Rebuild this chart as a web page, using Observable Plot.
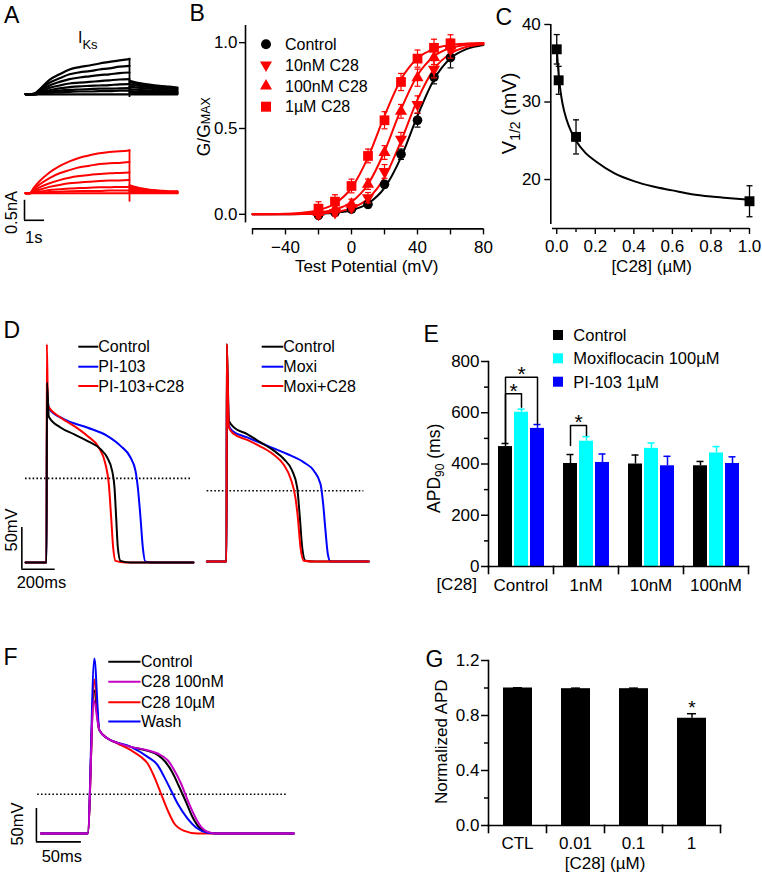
<!DOCTYPE html>
<html><head><meta charset="utf-8">
<script src="https://cdn.jsdelivr.net/npm/d3@7"></script>
<script src="https://cdn.jsdelivr.net/npm/@observablehq/plot@0.6"></script>
<style>
html,body{margin:0;padding:0;background:#fff;}
#fig{position:relative;width:762px;height:876px;overflow:hidden;background:#fff;}
</style></head>
<body><div id="fig"></div>
<script>
// ================= DATA =================
// --- A: IKs current traces (nA) vs time (s) ---
const aPreTime = [-0.2];
const aStepTime = [0, 0.25, 0.5, 1, 1.5, 2, 2.5, 3, 3.5, 4, 4.5, 5];
const aTailTime = [5, 5.5, 6, 6.5, 7, 7.4];
const aControlStep = [
  [0, .02, .12, .36, .50, .62, .68, .72, .77, .81, .85, .88],
  [0, .01, .10, .29, .40, .50, .55, .58, .62, .65, .69, .71],
  [0, .01, .08, .22, .31, .38, .42, .45, .48, .50, .53, .545],
  [0, .01, .05, .16, .22, .27, .29, .31, .33, .35, .37, .38],
  [0, 0, .04, .10, .15, .18, .20, .21, .22, .23, .25, .255],
  [0, 0, .02, .06, .09, .11, .12, .13, .14, .14, .15, .155],
  [0, 0, .01, .04, .05, .06, .07, .07, .08, .08, .09, .09],
  [0, 0, 0, 0, 0, 0, 0, 0, 0, 0, 0, 0]
];
const aControlTail = [
  [.34, .28, .24, .21, .19, .17],
  [.30, .25, .21, .19, .17, .15],
  [.25, .21, .18, .16, .14, .12],
  [.19, .16, .14, .12, .10, .09],
  [.13, .11, .09, .08, .07, .06],
  [.08, .07, .06, .05, .04, .04],
  [.04, .03, .03, .02, .02, .02],
  [0, 0, 0, 0, 0, 0]
];
const aC28Step = [
  [0, .16, .30, .52, .68, .80, .89, .95, 1.00, 1.03, 1.05, 1.07],
  [0, .12, .22, .38, .50, .58, .65, .69, .73, .75, .76, .78],
  [0, .08, .15, .25, .33, .39, .43, .46, .48, .50, .51, .52],
  [0, .05, .09, .16, .21, .25, .27, .29, .31, .32, .32, .33],
  [0, .02, .04, .08, .10, .12, .13, .14, .15, .15, .16, .16],
  [0, .01, .02, .03, .04, .05, .06, .06, .06, .07, .07, .07],
  [0, 0, 0, 0, 0, 0, 0, 0, 0, 0, 0, 0]
];
const aC28Tail = [
  [.20, .13, .09, .07, .05, .05],
  [.16, .11, .08, .06, .04, .04],
  [.12, .08, .06, .04, .03, .03],
  [.08, .06, .04, .03, .02, .02],
  [.05, .04, .03, .02, .01, .01],
  [.03, .02, .01, .01, .01, .01],
  [0, 0, 0, 0, 0, 0]
];
const aControlTransient = [-0.08, 0.90];
const aC28Transient = [-0.22, 1.09];
const aScaleBar = [{t: -0.25, i: -0.675, dt: 1, di: 0.5}];

// --- B: G/Gmax vs test potential ---
const bVoltage = [-20, -10, 0, 10, 20, 30, 40, 50, 60];
const bControl = [-0.006, 0.01, 0.03, 0.058, 0.175, 0.35, 0.548, 0.80, 0.913];
const bControlErr = [0.01, 0.01, 0.01, 0.02, 0.02, 0.03, 0.04, 0.04, 0.06];
const b10nM = [0.0, 0.01, 0.04, 0.097, 0.25, 0.437, 0.64, 0.845, 0.96];
const b10nMErr = [0.02, 0.02, 0.02, 0.03, 0.04, 0.04, 0.05, 0.05, 0.05];
const b100nM = [0.01, 0.03, 0.058, 0.175, 0.36, 0.60, 0.796, 0.913, 0.98];
const b100nMErr = [0.03, 0.03, 0.03, 0.03, 0.04, 0.04, 0.05, 0.04, 0.04];
const b1uM = [0.033, 0.074, 0.165, 0.34, 0.548, 0.771, 0.907, 0.97, 0.996];
const b1uMErr = [0.04, 0.04, 0.04, 0.04, 0.05, 0.05, 0.05, 0.05, 0.05];
const bFitVoltage = [-60, -50, -40, -30, -20, -10, 0, 10, 20, 30, 40, 50, 60, 70, 80];
const bFitControl = [0.0001, 0.0002, 0.0005, 0.0012, 0.0033, 0.009, 0.024, 0.063, 0.154, 0.332, 0.574, 0.786, 0.909, 0.964, 0.987];
const bFit10nM = [0.0001, 0.0002, 0.0007, 0.0018, 0.005, 0.013, 0.036, 0.091, 0.214, 0.426, 0.668, 0.846, 0.937, 0.976, 0.991];
const bFit100nM = [0.0002, 0.0005, 0.0014, 0.0039, 0.010, 0.028, 0.072, 0.175, 0.366, 0.611, 0.810, 0.921, 0.969, 0.988, 0.996];
const bFit1uM = [0.0005, 0.0012, 0.0033, 0.009, 0.024, 0.063, 0.154, 0.332, 0.574, 0.786, 0.909, 0.964, 0.987, 0.995, 0.998];
const bLegend = ["Control", "10nM C28", "100nM C28", "1\u00b5M C28"];
const bXTicks = [-60, -40, -20, 0, 20, 40, 60, 80];
const bYTicks = [0, 0.5, 1.0];

// --- C: V1/2 vs [C28] ---
const cConc = [0, 0.01, 0.1, 1.0];
const cV12 = [36.8, 32.8, 25.5, 17.2];
const cV12Err = [1.9, 1.8, 2.2, 2.0];
const cFitConc = [0, 0.01, 0.02, 0.03, 0.05, 0.075, 0.1, 0.15, 0.2, 0.3, 0.4, 0.5, 0.6, 0.7, 0.8, 0.9, 1.0];
const cFitV12 = [37.0, 33.5, 31.3, 29.8, 27.8, 26.2, 25.0, 23.4, 22.4, 20.8, 19.8, 19.1, 18.6, 18.1, 17.8, 17.6, 17.4];
const cXTicks = [0, 0.2, 0.4, 0.6, 0.8, 1.0];
const cXMinor = [0.1, 0.3, 0.5, 0.7, 0.9];
const cYTicks = [20, 30, 40];

// --- D: action potentials (ms, mV above rest) ---
const dTimeControlL = [-126, 0, 3, 14, 84, 164, 244, 324, 364, 394, 408, 418, 428, 444, 504, 882];
const dVmControlL = [0, 0, 216, 175, 162, 154, 146, 136, 126, 110, 90, 54, 18, 2, 0, 0];
const dTimePI103 = [-126, 0, 3, 14, 104, 244, 364, 444, 504, 534, 548, 564, 578, 594, 654, 882];
const dVmPI103 = [0, 0, 200, 185, 172, 162, 152, 140, 126, 110, 90, 54, 18, 1, 0, 0];
const dTimePI103C28 = [-126, 0, 2, 9, 84, 164, 244, 314, 354, 374, 388, 400, 414, 474, 882];
const dVmPI103C28 = [0, 0, 262, 188, 174, 164, 152, 138, 118, 94, 54, 18, 2, 0, 0];
const dTimeControlR = [-118, 0, 2, 14, 44, 124, 204, 284, 344, 394, 424, 440, 454, 474, 534, 854];
const dVmControlR = [0, 0, 261, 169, 161, 153, 143, 133, 123, 109, 89, 53, 17, 1, 0, 0];
const dTimeMoxi = [-118, 0, 2, 14, 34, 124, 244, 364, 464, 524, 564, 580, 594, 608, 624, 854];
const dVmMoxi = [0, 0, 240, 163, 157, 149, 139, 129, 119, 109, 93, 69, 37, 9, 0, 0];
const dTimeMoxiC28 = [-118, 0, 2, 14, 44, 124, 204, 284, 344, 384, 414, 428, 444, 464, 524, 854];
const dVmMoxiC28 = [0, 0, 261, 161, 153, 146, 138, 128, 116, 100, 76, 53, 17, 1, 0, 0];
const dAPD90Left = [{t1: -126, t2: 864, v: 101}];
const dAPD90Right = [{t1: -116, t2: 824, v: 85}];
const dScaleBar = [{t: -148, v: -8, dt: 200, dv: 50}];
const dLegendLeft = ["Control", "PI-103", "PI-103+C28"];
const dLegendRight = ["Control", "Moxi", "Moxi+C28"];

// --- E: APD90 bars ---
const eGroups = ["Control", "1nM", "10nM", "100nM"];
const eSeriesNames = ["Control", "Moxiflocacin 100\u00b5M", "PI-103 1\u00b5M"];
const eControl = [468, 402, 400, 393];
const eControlErr = [12, 35, 35, 17];
const eMoxi = [602, 489, 461, 443];
const eMoxiErr = [12, 18, 21, 25];
const ePI103 = [539, 406, 393, 402];
const ePI103Err = [15, 33, 37, 26];
const eYTicks = [0, 200, 400, 600, 800];
const eYMinor = [100, 300, 500, 700];
const eBrackets = [
  {id: 1, group: "Control", from: 0, to: 2, left: 482, top: 739, right: 556},
  {id: 2, group: "Control", from: 0, to: 1, left: 482, top: 674, right: 621},
  {id: 3, group: "1nM", from: 0, to: 1, left: 472, top: 550, right: 511}
];

// --- F: AP traces (ms, mV above rest) ---
const fTimeControl = [-52, 0, 7, 12.9, 22.2, 33.3, 48, 66.6, 77.7, 86, 94, 101, 109, 116, 124, 132, 144, 229];
const fVmControl = [0, 0, 215, 155, 142.5, 136, 130, 124, 118, 108, 92, 72, 48, 26, 9, 2, 0, 0];
const fTime100nM = [-52, 0, 6.7, 12.9, 22.2, 33.3, 48, 66.6, 77.7, 88.8, 96.2, 103.7, 111, 118.4, 126, 133.4, 144.5, 229];
const fVm100nM = [0, 0, 200, 155, 142.5, 136, 130, 125, 120, 110, 95, 75, 50, 27.5, 10, 2.5, 0, 0];
const fTime10uM = [-52, 0, 7.4, 12.9, 22.2, 33.3, 48, 59, 66.6, 74, 81.4, 88.8, 96.2, 107.3, 122, 229];
const fVm10uM = [0, 0, 231, 155, 142.5, 135, 125, 115, 105, 85, 60, 35, 15, 4, 0, 0];
const fTimeWash = [-52, 0, 7.4, 12.9, 22.2, 48, 66.6, 77.7, 85, 92.5, 99.9, 111, 122, 133, 144, 229];
const fVmWash = [0, 0, 262.5, 155, 142.5, 130, 115, 102.5, 85, 65, 45, 22.5, 7.5, 1, 0, 0];
const fAPD = [{t1: -55.6, t2: 222, v: 59}];
const fScaleBar = [{t: -57, v: -12.5, dt: 50, dv: 50}];
const fLegend = ["Control", "C28 100nM", "C28 10\u00b5M", "Wash"];

// --- G: normalized APD ---
const gCategories = ["CTL", "0.01", "0.1", "1"];
const gNormAPD = [1.0, 0.995, 0.995, 0.78];
const gNormAPDErr = [0.002, 0.004, 0.004, 0.033];
const gSignificant = [false, false, false, true];
const gYTicks = [0, 0.4, 0.8, 1.2];
const gYMinor = [0.2, 0.6, 1.0];

// ================= HELPERS =================
const FONT = "'Liberation Sans', Arial, Helvetica, sans-serif";
const fig = document.getElementById("fig");
const BLUE = "#0000ff", RED = "#ff0000", CYAN = "#00ffff", MAGENTA = "#c400c4";
function place(frame, pad, opts) {
  const [x0, y0, x1, y1] = frame;
  const [pt, pr, pb, pl] = pad;
  const svg = Plot.plot({
    width: x1 - x0 + pl + pr,
    height: y1 - y0 + pt + pb,
    marginTop: pt, marginRight: pr, marginBottom: pb, marginLeft: pl,
    style: {fontFamily: FONT, fontSize: "17px", background: "transparent", overflow: "visible", color: "#000"},
    ...opts
  });
  svg.style.position = "absolute";
  svg.style.left = (x0 - pl) + "px";
  svg.style.top = (y0 - pt) + "px";
  svg.style.maxWidth = "none";
  fig.appendChild(svg);
  return svg;
}
const capSymbol = {draw(ctx, size) { const w = Math.sqrt(size / Math.PI); ctx.moveTo(-w, 0); ctx.lineTo(w, 0); }};
const traceRows = (times, values, name) => times.map((t, i) => ({name, t, v: values[i]}));

// ================= A =================
function sweepRows(steps, tails) {
  const rows = [];
  steps.forEach((s, k) => {
    aPreTime.forEach(t => rows.push({seg: "s" + k, t, i: 0}));
    aStepTime.forEach((t, j) => rows.push({seg: "s" + k, t, i: s[j]}));
    aTailTime.forEach((t, j) => rows.push({seg: "t" + k, t, i: tails[k][j]}));
  });
  return rows;
}
place([25, 56.7, 177, 98.3], [3, 3, 3, 3], {
  x: {domain: [-0.2, 7.4], axis: null}, y: {domain: [-0.12, 0.92], axis: null},
  marks: [
    Plot.line(sweepRows(aControlStep, aControlTail), {x: "t", y: "i", z: "seg", curve: "monotone-x", stroke: "#000", strokeWidth: 2.2}),
    Plot.ruleX([aStepTime[aStepTime.length - 1]], {y1: aControlTransient[0], y2: aControlTransient[1], stroke: "#000", strokeWidth: 1.8})
  ]
});
place([23, 148.2, 177, 221], [3, 3, 3, 3], {
  x: {domain: [-0.3, 7.4], axis: null}, y: {domain: [-0.7, 1.12], axis: null},
  marks: [
    Plot.line(sweepRows(aC28Step, aC28Tail), {x: "t", y: "i", z: "seg", curve: "monotone-x", stroke: RED, strokeWidth: 2}),
    Plot.ruleX([aStepTime[aStepTime.length - 1]], {y1: aC28Transient[0], y2: aC28Transient[1], stroke: RED, strokeWidth: 1.8}),
    Plot.ruleX(aScaleBar, {x: "t", y1: "i", y2: d => d.i + d.di, stroke: "#000", strokeWidth: 1.6}),
    Plot.ruleY(aScaleBar, {y: "i", x1: "t", x2: d => d.t + d.dt, stroke: "#000", strokeWidth: 1.6})
  ]
});

// ================= B =================
{
  const series = [
    {name: bLegend[0], y: bControl, err: bControlErr, fit: bFitControl, color: "#000", symbol: "circle", r: 4.8, rotate: 0},
    {name: bLegend[1], y: b10nM, err: b10nMErr, fit: bFit10nM, color: RED, symbol: "triangle", r: 4.5, rotate: 180},
    {name: bLegend[2], y: b100nM, err: b100nMErr, fit: bFit100nM, color: RED, symbol: "triangle", r: 4.5, rotate: 0},
    {name: bLegend[3], y: b1uM, err: b1uMErr, fit: bFit1uM, color: RED, symbol: "square", r: 5.5, rotate: 0}
  ];
  const marks = [];
  series.forEach(s => {
    const fit = bFitVoltage.map((v, i) => ({v, g: s.fit[i]}));
    marks.push(Plot.line(fit, {x: "v", y: "g", curve: "monotone-x", stroke: s.color, strokeWidth: 2}));
  });
  series.forEach(s => {
    const p = bVoltage.map((v, i) => ({v, g: s.y[i], e: s.err[i]}));
    marks.push(Plot.ruleX(p, {x: "v", y1: d => d.g - d.e, y2: d => d.g + d.e, stroke: s.color, strokeWidth: 1.2}));
    marks.push(Plot.dot(p, {x: "v", y: d => d.g + d.e, symbol: capSymbol, r: 3, fill: "none", stroke: s.color, strokeWidth: 1.2}));
    marks.push(Plot.dot(p, {x: "v", y: d => d.g - d.e, symbol: capSymbol, r: 3, fill: "none", stroke: s.color, strokeWidth: 1.2}));
    marks.push(Plot.dot(p, {x: "v", y: "g", symbol: s.symbol, r: s.r, fill: s.color, stroke: "none", rotate: s.rotate}));
  });
  marks.push(
    Plot.ruleX([-60], {dx: -7, stroke: "#000", strokeWidth: 1.6}),
    Plot.ruleY([-0.05], {dy: 6, stroke: "#000", strokeWidth: 1.6}),
    Plot.axisY({ticks: bYTicks, tickFormat: d3.format(".1f"), tickSize: 6, tickPadding: 2, dx: -7, label: null, strokeWidth: 1.4}),
    Plot.axisX({ticks: bXTicks, tickFormat: d => d % 40 === 0 ? d3.format("d")(d) : "", tickSize: 6, tickPadding: 6, dy: 6, label: null, strokeWidth: 1.4})
  );
  place([252, 24.5, 483, 221.9], [10, 10, 50, 50], {
    x: {domain: [-60, 80]}, y: {domain: [-0.05, 1.1]}, marks
  });
}

// ================= C =================
{
  const fit = cFitConc.map((c, i) => ({c, v: cFitV12[i]}));
  const pts = cConc.map((c, i) => ({c, v: cV12[i], e: cV12Err[i]}));
  place([551.7, 24, 748.7, 224], [10, 10, 50, 50], {
    x: {domain: [-0.022, 1.0]}, y: {domain: [14.2, 40]},
    marks: [
      Plot.line(fit, {x: "c", y: "v", curve: "monotone-x", stroke: "#000", strokeWidth: 2}),
      Plot.ruleX(pts, {x: "c", y1: d => d.v - d.e, y2: d => d.v + d.e, stroke: "#000", strokeWidth: 1.3}),
      Plot.dot(pts, {x: "c", y: d => d.v + d.e, symbol: capSymbol, r: 3, fill: "none", stroke: "#000", strokeWidth: 1.3}),
      Plot.dot(pts, {x: "c", y: d => d.v - d.e, symbol: capSymbol, r: 3, fill: "none", stroke: "#000", strokeWidth: 1.3}),
      Plot.dot(pts, {x: "c", y: "v", symbol: "square", r: 5.6, fill: "#000", stroke: "none"}),
      Plot.ruleX([-0.022], {dx: -1.7, stroke: "#000", strokeWidth: 1.6}),
      Plot.ruleY([14.2], {dy: 4, stroke: "#000", strokeWidth: 1.6}),
      Plot.axisY({ticks: cYTicks, tickSize: 6, tickPadding: 4, dx: -1.7, label: null, strokeWidth: 1.4}),
      Plot.axisX({ticks: cXTicks, tickFormat: d3.format(".1f"), tickSize: 6, tickPadding: 5, dy: 4, label: null, strokeWidth: 1.4}),
      Plot.axisX({ticks: cXMinor, tickSize: 4, dy: 4, text: null, label: null, strokeWidth: 1.4})
    ]
  });
}

// ================= D =================
{
  const apLine = (rows, stroke) => Plot.line(rows, {x: "t", y: "v", curve: "monotone-x", stroke, strokeWidth: 2});
  place([21, 336.7, 193, 568.4], [3, 3, 3, 3], {
    x: {domain: [-150, 882], axis: null}, y: {domain: [-8, 270], axis: null},
    marks: [
      Plot.ruleY(dAPD90Left, {y: "v", x1: "t1", x2: "t2", stroke: "#000", strokeWidth: 1.6, strokeDasharray: "1.6,2.2"}),
      apLine(traceRows(dTimePI103, dVmPI103), BLUE),
      apLine(traceRows(dTimePI103C28, dVmPI103C28), RED),
      apLine(traceRows(dTimeControlL, dVmControlL), "#000"),
      Plot.ruleX(dScaleBar, {x: "t", y1: "v", y2: d => d.v + d.dv, stroke: "#000", strokeWidth: 1.6}),
      Plot.ruleY(dScaleBar, {y: "v", x1: "t", x2: d => d.t + d.dt, stroke: "#000", strokeWidth: 1.6})
    ]
  });
  place([206, 335.7, 369, 567.4], [3, 3, 3, 3], {
    x: {domain: [-120, 858], axis: null}, y: {domain: [-8, 270], axis: null},
    marks: [
      Plot.ruleY(dAPD90Right, {y: "v", x1: "t1", x2: "t2", stroke: "#000", strokeWidth: 1.6, strokeDasharray: "1.6,2.2"}),
      apLine(traceRows(dTimeMoxi, dVmMoxi), BLUE),
      apLine(traceRows(dTimeControlR, dVmControlR), "#000"),
      apLine(traceRows(dTimeMoxiC28, dVmMoxiC28), RED)
    ]
  });
}

// ================= E =================
{
  const values = [eControl, eMoxi, ePI103], errs = [eControlErr, eMoxiErr, ePI103Err];
  const rows = [];
  eGroups.forEach((g, i) => eSeriesNames.forEach((s, j) => rows.push({group: g, series: s, value: values[j][i], err: errs[j][i]})));
  const bracketRows = eBrackets.flatMap(b => [
    {id: b.id, group: b.group, series: eSeriesNames[b.from], y: b.left},
    {id: b.id, group: b.group, series: eSeriesNames[b.from], y: b.top},
    {id: b.id, group: b.group, series: eSeriesNames[b.to], y: b.top},
    {id: b.id, group: b.group, series: eSeriesNames[b.to], y: b.right}
  ]);
  const frame = [486.5, 361, 748, 566];
  const H = frame[3] - frame[1];
  const groupW = (frame[2] - frame[0]) / eGroups.length;
  const PI = 0.14, PO = 0.575;
  const step = groupW / (eSeriesNames.length - PI + 2 * PO);
  const starRowsMid = eBrackets.filter(b => b.to - b.from === 2).map(b => ({group: b.group, series: eSeriesNames[b.from + 1], y: b.top}));
  const starRowsHalf = eBrackets.filter(b => b.to - b.from === 1).map(b => ({group: b.group, series: eSeriesNames[b.from], y: b.top}));
  place(frame, [10, 10, 40, 60], {
    fx: {domain: eGroups, padding: 0},
    x: {domain: eSeriesNames, paddingInner: PI, paddingOuter: PO, axis: null},
    y: {domain: [0, 800], axis: null},
    color: {domain: eSeriesNames, range: ["#000000", CYAN, BLUE]},
    marks: [
      Plot.barY(rows, {fx: "group", x: "series", y1: 0, y2: "value", fill: "series"}),
      Plot.ruleX(rows, {fx: "group", x: "series", y1: "value", y2: d => d.value + d.err, stroke: "series", strokeWidth: 1.5}),
      Plot.tickY(rows, {fx: "group", x: "series", y: d => d.value + d.err, stroke: "series", strokeWidth: 1.5, insetLeft: 3.5, insetRight: 3.5}),
      Plot.line(bracketRows, {fx: "group", x: "series", y: "y", z: "id", stroke: "#000", strokeWidth: 1.5}),
      Plot.text(starRowsMid, {fx: "group", x: "series", y: "y", text: () => "*", fontSize: 21, dy: -3}),
      Plot.text(starRowsHalf, {fx: "group", x: "series", y: "y", text: () => "*", fontSize: 21, dy: -3, dx: step / 2}),
      Plot.axisY({ticks: eYTicks, tickSize: 7, tickPadding: 2, label: null, strokeWidth: 1.5}),
      Plot.axisY({ticks: eYMinor, tickSize: 4, text: null, label: null, strokeWidth: 1.5}),
      Plot.axisFx({anchor: "bottom", tickSize: 0, tickPadding: 12, label: null}),
      Plot.frame({anchor: "left", facetAnchor: "left", stroke: "#000", strokeWidth: 1.6}),
      Plot.frame({anchor: "bottom", stroke: "#000", strokeWidth: 1.6}),
      Plot.frame({anchor: "left", insetTop: H, insetBottom: -7, stroke: "#000", strokeWidth: 1.6}),
      Plot.frame({anchor: "right", facetAnchor: "right", insetTop: H, insetBottom: -7, stroke: "#000", strokeWidth: 1.6})
    ]
  });
}

// ================= F =================
{
  const apLine = (rows, stroke) => Plot.line(rows, {x: "t", y: "v", curve: "monotone-x", stroke, strokeWidth: 2});
  place([34.5, 653.3, 292.8, 842], [3, 3, 3, 3], {
    x: {domain: [-58, 229], axis: null}, y: {domain: [-13, 270], axis: null},
    marks: [
      Plot.ruleY(fAPD, {y: "v", x1: "t1", x2: "t2", stroke: "#000", strokeWidth: 1.6, strokeDasharray: "1.6,2.2"}),
      apLine(traceRows(fTimeControl, fVmControl), "#000"),
      apLine(traceRows(fTime10uM, fVm10uM), RED),
      apLine(traceRows(fTimeWash, fVmWash), BLUE),
      apLine(traceRows(fTime100nM, fVm100nM), MAGENTA),
      Plot.ruleX(fScaleBar, {x: "t", y1: "v", y2: d => d.v + d.dv, stroke: "#000", strokeWidth: 1.6}),
      Plot.ruleY(fScaleBar, {y: "v", x1: "t", x2: d => d.t + d.dt, stroke: "#000", strokeWidth: 1.6})
    ]
  });
}

// ================= G =================
{
  const rows = gCategories.map((c, i) => ({cat: c, series: "APD", value: gNormAPD[i], err: gNormAPDErr[i], sig: gSignificant[i]}));
  const frame = [486.5, 660, 720, 825];
  const H = frame[3] - frame[1];
  place(frame, [10, 10, 50, 60], {
    fx: {domain: gCategories, padding: 0},
    x: {domain: ["APD"], paddingInner: 0, paddingOuter: 0.5, axis: null},
    y: {domain: [0, 1.2], axis: null},
    marks: [
      Plot.barY(rows, {fx: "cat", x: "series", y1: 0, y2: "value", fill: "#000"}),
      Plot.ruleX(rows, {fx: "cat", x: "series", y1: "value", y2: d => d.value + d.err, stroke: "#000", strokeWidth: 1.5}),
      Plot.tickY(rows, {fx: "cat", x: "series", y: d => d.value + d.err, stroke: "#000", strokeWidth: 1.5, insetLeft: 10, insetRight: 10}),
      Plot.text(rows.filter(d => d.sig), {fx: "cat", x: "series", y: d => d.value + d.err, text: () => "*", fontSize: 19, dy: -6}),
      Plot.axisY({ticks: gYTicks, tickFormat: d3.format(".1f"), tickSize: 7, tickPadding: 2, label: null, strokeWidth: 1.5}),
      Plot.axisY({ticks: gYMinor, tickSize: 4, text: null, label: null, strokeWidth: 1.5}),
      Plot.axisFx({anchor: "bottom", tickSize: 0, tickPadding: 11, label: null}),
      Plot.frame({anchor: "left", facetAnchor: "left", stroke: "#000", strokeWidth: 1.6}),
      Plot.frame({anchor: "bottom", stroke: "#000", strokeWidth: 1.6}),
      Plot.frame({anchor: "left", insetTop: H, insetBottom: -7, stroke: "#000", strokeWidth: 1.6}),
      Plot.frame({anchor: "right", facetAnchor: "right", insetTop: H, insetBottom: -7, stroke: "#000", strokeWidth: 1.6})
    ]
  });
}

// ================= TEXT OVERLAY (titles, legends, labels) =================
{
  const parts = [];
  const T = (x, y, s, o = {}) => {
    const size = o.size || 17, anchor = o.anchor || "start";
    const tr = o.rotate ? ` transform="rotate(${o.rotate} ${x} ${y})"` : "";
    parts.push(`<text x="${x}" y="${y}" font-size="${size}" text-anchor="${anchor}"${tr}>${s}</text>`);
  };
  const L = (x1, y1, x2, y2, c, w = 2) => parts.push(`<line x1="${x1}" y1="${y1}" x2="${x2}" y2="${y2}" stroke="${c}" stroke-width="${w}"/>`);
  // panel letters
  [["A", 4, 22.5], ["B", 189.5, 20.7], ["C", 495.5, 25], ["D", 3.5, 337.5], ["E", 423.5, 342], ["F", 3.5, 665], ["G", 425.5, 667]]
    .forEach(([s, x, y]) => T(x, y, s, {size: 23}));
  // A
  T(78, 43.3, `I<tspan font-size="13" dy="6">Ks</tspan>`, {size: 16});
  T(16.7, 212.5, "0.5nA", {size: 16.5, anchor: "middle", rotate: -90});
  T(25, 243.3, "1s", {size: 16.5});
  // B
  T(366.7, 271.5, "Test Potential (mV)", {size: 17, anchor: "middle"});
  T(210.5, 126.7, `G/G<tspan font-size="12.5">MAX</tspan>`, {size: 17.5, anchor: "middle", rotate: -90});
  const bRows = [44.3, 65, 86, 106.7];
  parts.push(`<circle cx="266" cy="${bRows[0]}" r="5" fill="#000"/>`);
  parts.push(`<path d="M260,${bRows[1] - 3.5}L272,${bRows[1] - 3.5}L266,${bRows[1] + 6.9}Z" fill="${RED}"/>`);
  parts.push(`<path d="M260,${bRows[2] + 3.5}L272,${bRows[2] + 3.5}L266,${bRows[2] - 6.9}Z" fill="${RED}"/>`);
  parts.push(`<rect x="261" y="${bRows[3] - 5}" width="10" height="10" fill="${RED}"/>`);
  bLegend.forEach((s, i) => T(285, bRows[i] + 5.7, s, {size: 16}));
  // C
  T(516.5, 113.3, `V<tspan font-size="14" dy="4">1/2</tspan><tspan dy="-4"> (mV)</tspan>`, {size: 20, anchor: "middle", rotate: -90});
  T(651.7, 272, "[C28] (\u00b5M)", {size: 17, anchor: "middle"});
  // D
  T(16.7, 530, "50mV", {size: 16.5, anchor: "middle", rotate: -90});
  T(16.7, 588.3, "200ms", {size: 16.5});
  const dRows = [346.7, 366.7, 386];
  [["#000", dLegendLeft[0]], [BLUE, dLegendLeft[1]], [RED, dLegendLeft[2]]].forEach(([c, s], i) => {
    L(78.3, dRows[i], 98.3, dRows[i], c); T(98.3, dRows[i] + 5.7, s, {size: 16});
  });
  [["#000", dLegendRight[0]], [BLUE, dLegendRight[1]], [RED, dLegendRight[2]]].forEach(([c, s], i) => {
    L(261.7, dRows[i], 283.3, dRows[i], c); T(283.3, dRows[i] + 5.7, s, {size: 16});
  });
  // E
  T(440, 468.3, `APD<tspan font-size="12" dy="4">90</tspan><tspan dy="-4"> (ms)</tspan>`, {size: 17.5, anchor: "middle", rotate: -90});
  T(456.7, 590, "[C28]", {size: 17, anchor: "middle"});
  const eRowsY = [335, 358.3, 381.7];
  ["#000", CYAN, BLUE].forEach((c, i) => {
    parts.push(`<rect x="553" y="${eRowsY[i] - 5}" width="10" height="10" fill="${c}"/>`);
    T(573.3, eRowsY[i] + 5.9, eSeriesNames[i], {size: 16.5});
  });
  // F
  T(23.3, 824, "50mV", {size: 16.5, anchor: "middle", rotate: -90});
  T(41.7, 861.7, "50ms", {size: 16.5});
  const fRows = [661.7, 681.7, 702.2, 721.5];
  ["#000", MAGENTA, RED, BLUE].forEach((c, i) => {
    L(108.3, fRows[i], 140.5, fRows[i], c); T(141, fRows[i] + 5.7, fLegend[i], {size: 16});
  });
  // G
  T(446.7, 741.7, "Normalized APD", {size: 17, anchor: "middle", rotate: -90});
  T(605, 869, "[C28] (\u00b5M)", {size: 17, anchor: "middle"});
  const ov = document.createElementNS("http://www.w3.org/2000/svg", "svg");
  ov.setAttribute("width", 762); ov.setAttribute("height", 876);
  ov.setAttribute("style", `position:absolute;left:0;top:0;overflow:visible;font-family:${FONT};fill:#000`);
  ov.innerHTML = parts.join("");
  fig.appendChild(ov);
}
</script>
</body></html>
